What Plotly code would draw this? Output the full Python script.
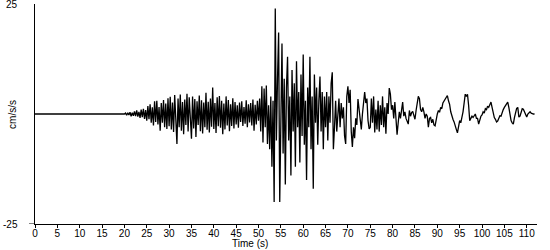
import plotly.graph_objects as go

# Sampling step of the record (s)
step = 0.25

# Acceleration values (cm/s/s), per 5-second segment
seg_20 = [0, 0.2, -0.3, 0.3, -0.2, 0.4, -0.5, 0.3, -0.4, 0.6, -0.5, 0.8, -0.6, 0.5, -0.9, 1.0, -0.7, 1.2, -1.1, 0.9]
seg_25 = [-1.5, 1.8, -1.2, 2.2, -2.0, 1.5, -2.6, 2.9, -1.8, 3.0, -2.4, 1.6, -3.8, 2.5, -2.0, 3.2, -3.0, 2.4, -3.4, 3.6]
seg_30 = [-2.8, 3.9, -3.5, 2.6, -4.1, 4.3, -2.9, -6.8, 3.5, -3.0, 4.4, -3.8, 2.7, -4.6, 3.3, -2.5, 4.6, -4.0, 3.8, -3.2]
seg_35 = [-5.6, 4.0, -3.3, 3.4, -5.2, 2.9, -2.5, 4.2, -3.9, 3.1, -4.4, 2.6, -3.0, 4.8, -3.6, 2.8, -4.2, 3.5, -2.9, 6.0]
seg_40 = [-3.4, 2.5, -4.3, 3.8, -2.8, 4.1, -3.1, 3.0, -4.6, 2.4, -3.5, 4.0, -2.6, 3.2, -3.9, 2.2, -2.7, 3.6, -3.3, 2.7]
seg_45 = [-2.4, 2.0, -3.1, 2.6, -1.8, 2.9, -2.7, 1.6, -2.2, 3.1, -3.0, 2.2, -1.9, 2.5, -2.6, 3.3, -3.8, 2.1, -2.4, 3.0]
seg_50 = [-1.5, 3.5, -4.0, 6.3, -6.5, 5.8, -3.0, 6.5, -6.8, 2.0, -8.0, 4.0, -12.0, 3.0, -20.0, 24.0, -6.0, 8.0, 18.5, -20.0]
seg_55 = [-4, 16.0, -9, 8, -16.0, 6, 13, -6, 4, -14, 10, -4, 7, -12, 12, -3, 5, -11, 9, -5]
seg_60 = [13.5, -7, 3, -15, 6, -3, 13, -8, 4, -17, 9, -2, 6, -7, 3, 8.5, -4, 5, -8, 4]
seg_65 = [-3, 5, -6, 4, -2, 7, 9.5, -8, -3, 3, -4, 1, 3.5, -3, 2.5, -1, 1.5, -5, -6.8, 4]
seg_70 = [6.3, 2.5, 5.5, -4, -7.5, -3, -5.5, -1, -2.5, 3.4, 0.5, -2, -3.5, 0, 2, 5, 2.5, 3.5, -1.5, -3.4]
seg_75 = [-3, 3.5, -2, 4, -4.2, 1, -3.5, 3.0, -4, 2, -2.5, 4, -3, 1.5, -4.5, 2.5, 0, 5.9, 4.5, 1]
seg_80 = [2, -1, 2.7, -1, -4.7, -2, 0.5, -1, 1.5, 2.7, -0.5, 0.5, -1, -1.5, -2.3, 0.8, -0.5, 0.3, 0.6, -0.3]
seg_85 = [-1.2, 0.8, 3, 4, 3.5, 1, 0.5, 1.5, 0.5, -1, 0, -0.5, -3, -1, -0.8, -2, -1.2, -2.5, -2.7, -1]
seg_90 = [0, 0.8, 0.4, 1.5, 1.2, 2.5, 2.9, 3.5, 4.0, 4.2, 3.0, 2.2, 0.5, -0.5, -1.2, -1.8, -3.0, -3.5, -4.3, -3.0]
seg_95 = [-1.5, -2, -1, 0.5, 2.5, 4.5, 4, 4.5, 2, -1.5, -1, -0.5, -0.8, -0.3, 0, -1, -1, -2.3, -1, -0.5]
seg_100 = [-0.2, 0.5, 0.2, 1.2, 1.0, 1.8, 1.5, 2.3, 2.7, 1.5, 0, -0.8, -1.2, -1.8, -1.6, -0.8, -0.4, -0.5, 0.5, 1.0]
seg_105 = [1.5, 1.9, 2.2, 2.7, 1.5, -0.5, -1.5, -2, -2.3, -0.8, 0.5, 1.3, 1.5, -0.7, -0.5, 0.5, 1.2, 1.1, 0.5, -0.5]
seg_110 = [-0.7, 0, 0.4, 0.5, 0.2, 0, 0, 0]

segments = [(20, seg_20), (25, seg_25), (30, seg_30), (35, seg_35), (40, seg_40),
            (45, seg_45), (50, seg_50), (55, seg_55), (60, seg_60), (65, seg_65),
            (70, seg_70), (75, seg_75), (80, seg_80), (85, seg_85), (90, seg_90),
            (95, seg_95), (100, seg_100), (105, seg_105), (110, seg_110)]

# Quiet pre-event record
times = [0.0]
accel = [0.0]
for start, vals in segments:
    for i, v in enumerate(vals):
        times.append(start + step * i)
        accel.append(v)

x_ticks = list(range(0, 111, 5))
y_labels = ["25", "-25"]
y_label_vals = [25, -25]

FONT = "Liberation Sans, Arial, sans-serif"
PLOT_H = 250 - 4 - 26

fig = go.Figure()
fig.add_trace(go.Scatter(x=times, y=accel, mode="lines",
                         line=dict(color="black", width=1.3), hoverinfo="skip"))

fig.update_layout(
    width=550, height=250,
    margin=dict(l=35, r=13, t=4, b=26),
    paper_bgcolor="white", plot_bgcolor="white",
    showlegend=False,
    font=dict(family=FONT, size=10, color="black"),
    xaxis=dict(range=[0, 112.3], showgrid=False, zeroline=False,
               showline=True, linecolor="black", linewidth=1,
               ticks="outside", ticklen=3, tickcolor="black", tickwidth=1,
               tickvals=x_ticks, ticktext=[str(v) for v in x_ticks],
               tickfont=dict(family=FONT, size=10), ticklabelstandoff=-3),
    yaxis=dict(range=[-25, 25], showgrid=False, zeroline=False,
               showline=True, linecolor="black", linewidth=1,
               showticklabels=False, ticks=""),
)

# y tick labels and the -25 tick stub
for lab, val in zip(y_labels, y_label_vals):
    fig.add_annotation(x=-0.03, y=val, xref="paper", yref="y", text=lab,
                       showarrow=False, xanchor="right", yanchor="middle",
                       font=dict(family=FONT, size=10, color="black"))
fig.add_shape(type="line", xref="paper", yref="y", x0=-6/502, x1=0, y0=-25, y1=-25,
              line=dict(color="black", width=1))

# axis titles
fig.add_annotation(x=-0.046, y=0, xref="paper", yref="y", text="cm/s/s",
                   textangle=-90, showarrow=False, xanchor="center", yanchor="middle",
                   font=dict(family=FONT, size=10, color="black"))
fig.add_annotation(x=48.1, y=-26 / PLOT_H, xref="x", yref="paper", text="Time (s)",
                   showarrow=False, xanchor="center", yanchor="bottom", borderpad=0,
                   font=dict(family=FONT, size=10, color="black"))

fig.write_html("out.html")
